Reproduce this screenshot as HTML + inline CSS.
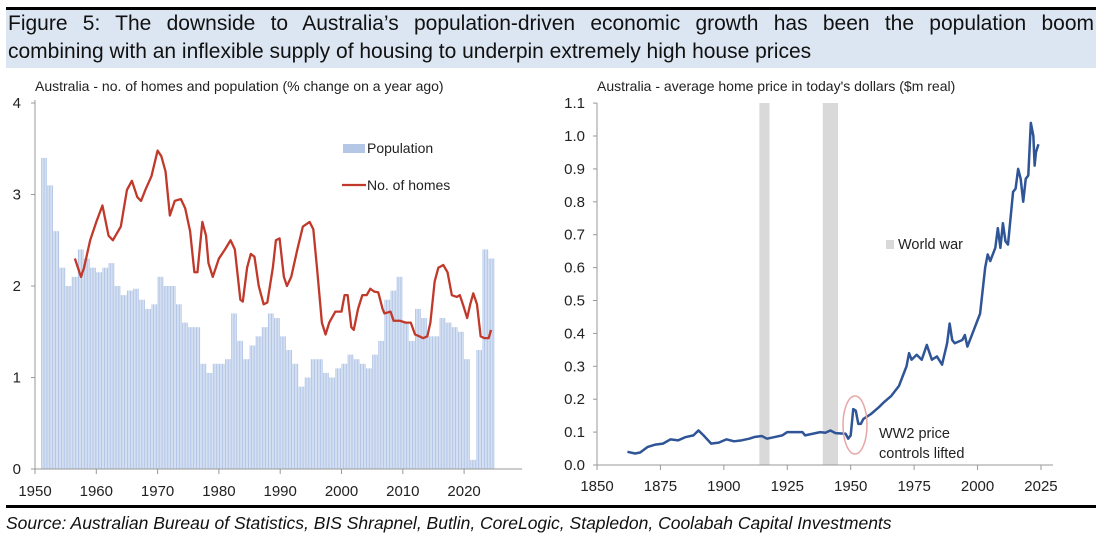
<!DOCTYPE html>
<html><head><meta charset="utf-8">
<style>
body{margin:0;width:1103px;height:540px;background:#fff;font-family:"Liberation Sans",sans-serif;overflow:hidden;position:relative}
#topline{position:absolute;left:6px;top:7px;width:1090px;height:3px;background:#000}
#banner{position:absolute;left:6px;top:10px;width:1090px;height:58px;background:#dce6f2}
.tl{position:absolute;left:8px;width:1086px;font-size:21px;line-height:28px;color:#111;white-space:nowrap}
#t1{top:10px;text-align:justify;text-align-last:justify;white-space:normal}
#t2{top:38px}
#botline{position:absolute;left:6px;top:505px;width:1090px;height:3px;background:#000}
#source{position:absolute;left:6px;top:513px;font-size:17.5px;font-style:italic;color:#111;white-space:nowrap}
svg{position:absolute;left:0;top:0}
</style></head><body>
<div id="topline"></div>
<div id="banner"></div>
<div id="t1" class="tl">Figure 5: The downside to Australia’s population-driven economic growth has been the population boom</div>
<div id="t2" class="tl">combining with an inflexible supply of housing to underpin extremely high house prices</div>
<svg id="chart" width="1103" height="540"></svg>
<div id="botline"></div>
<div id="source">Source: Australian Bureau of Statistics, BIS Shrapnel, Butlin, CoreLogic, Stapledon, Coolabah Capital Investments</div>
<script>
const popYears=[1951,1952,1953,1954,1955,1956,1957,1958,1959,1960,1961,1962,1963,1964,1965,1966,1967,1968,1969,1970,1971,1972,1973,1974,1975,1976,1977,1978,1979,1980,1981,1982,1983,1984,1985,1986,1987,1988,1989,1990,1991,1992,1993,1994,1995,1996,1997,1998,1999,2000,2001,2002,2003,2004,2005,2006,2007,2008,2009,2010,2011,2012,2013,2014,2015,2016,2017,2018,2019,2020,2021,2022,2023,2024];
const popValues=[3.4,3.1,2.6,2.2,2.0,2.1,2.4,2.3,2.2,2.15,2.2,2.25,2.0,1.9,1.95,1.97,1.85,1.75,1.8,2.1,2.0,2.0,1.8,1.6,1.55,1.55,1.15,1.05,1.15,1.15,1.2,1.7,1.4,1.2,1.35,1.45,1.55,1.7,1.65,1.45,1.3,1.15,0.9,1.0,1.2,1.2,1.05,1.0,1.1,1.15,1.25,1.2,1.15,1.1,1.25,1.4,1.85,1.95,2.1,1.6,1.4,1.75,1.65,1.45,1.45,1.65,1.6,1.55,1.5,1.2,0.1,1.3,2.4,2.3];
const homeYears=[1956.5,1957.5,1958,1959,1960,1961,1962,1962.7,1964,1965,1965.8,1966.7,1967.3,1968,1969,1970,1970.6,1971.3,1972,1972.8,1973.8,1974.5,1975.3,1976,1976.5,1977.3,1977.9,1978.3,1979,1980,1981,1981.9,1982.6,1983.5,1983.9,1984.6,1985.2,1985.8,1986.5,1987.3,1987.9,1988.8,1989.3,1989.9,1990.6,1991.1,1991.8,1992.8,1993.7,1994.8,1995.4,1996,1996.8,1997.4,1998,1999,2000,2000.5,2001,2001.6,2002,2002.7,2003.4,2004.1,2004.7,2005.3,2006,2006.7,2007,2008,2008.5,2009.5,2010.5,2011.3,2012,2012.7,2013.3,2014,2014.5,2015.2,2015.8,2016.6,2017.3,2018,2018.8,2019.3,2019.8,2020.5,2021,2021.5,2022.1,2022.7,2023.3,2024,2024.4];
const homeValues=[2.3,2.1,2.2,2.5,2.7,2.88,2.55,2.5,2.65,3.05,3.15,2.97,2.93,3.05,3.2,3.48,3.42,3.25,2.77,2.93,2.95,2.85,2.6,2.15,2.15,2.7,2.55,2.25,2.1,2.3,2.4,2.5,2.4,1.85,1.83,2.2,2.35,2.32,2.0,1.8,1.82,2.2,2.5,2.52,2.1,2.0,2.1,2.4,2.65,2.7,2.62,2.2,1.6,1.47,1.6,1.72,1.72,1.9,1.9,1.55,1.52,1.75,1.9,1.9,1.97,1.94,1.93,1.75,1.7,1.72,1.62,1.62,1.6,1.6,1.47,1.45,1.43,1.45,1.6,2.05,2.2,2.23,2.15,1.9,1.88,1.9,1.8,1.65,1.8,1.92,1.8,1.45,1.43,1.43,1.52];
const leftYTicks=[0,1,2,3,4];
const leftXTicks=[1950,1960,1970,1980,1990,2000,2010,2020];
const priceYears=[1862,1865,1867,1870,1873,1876,1879,1882,1885,1888,1890,1892,1895,1898,1901,1904,1907,1910,1912,1915,1917,1920,1923,1925,1928,1931,1932,1935,1938,1940,1942,1944,1948,1949,1950,1951,1952,1953,1954,1955,1958,1961,1963,1966,1969,1971,1972,1973,1974,1976,1978,1980,1982,1984,1986,1988,1989,1990,1991,1994,1995,1996,1998,2000,2001,2003,2004,2005,2007,2008,2009,2010,2011,2012,2013,2014,2015,2016,2017,2018,2019,2020,2021,2022,2022.5,2023,2024];
const priceValues=[0.04,0.035,0.038,0.055,0.062,0.065,0.078,0.075,0.085,0.09,0.105,0.09,0.065,0.068,0.078,0.072,0.075,0.08,0.085,0.088,0.08,0.085,0.09,0.1,0.1,0.1,0.09,0.095,0.1,0.098,0.105,0.097,0.095,0.08,0.09,0.17,0.165,0.125,0.125,0.14,0.155,0.175,0.19,0.21,0.24,0.28,0.3,0.34,0.32,0.335,0.32,0.365,0.32,0.33,0.305,0.37,0.43,0.38,0.37,0.38,0.395,0.36,0.4,0.44,0.46,0.6,0.64,0.62,0.66,0.72,0.66,0.735,0.68,0.67,0.75,0.83,0.84,0.9,0.87,0.8,0.87,0.88,1.04,1.0,0.91,0.95,0.975];
const warStarts=[1914,1939];
const warEnds=[1918,1945];
const rightYTicks=[0,0.1,0.2,0.3,0.4,0.5,0.6,0.7,0.8,0.9,1.0,1.1];
const rightXTicks=[1850,1875,1900,1925,1950,1975,2000,2025];

const NS="http://www.w3.org/2000/svg";
const svg=document.getElementById('chart');
function mk(tag,attrs,parent){const e=document.createElementNS(NS,tag);for(const k in attrs)e.setAttribute(k,attrs[k]);(parent||svg).appendChild(e);return e;}
const F='"Liberation Sans",sans-serif';

// left chart
const lx=y=>35+(y-1950)*6.13;
const ly=v=>469-v*91.5;
let t=mk('text',{x:35,y:91,'font-size':14,'font-family':F,fill:'#222'});t.textContent='Australia - no. of homes and population (% change on a year ago)';


const gb=mk('g',{});


popYears.forEach((yr,i)=>{
  const x0=lx(yr),h=469-ly(popValues[i]);
  for(let q=0;q<4;q++){
    const r=mk('rect',{x:x0+q*1.53,y:ly(popValues[i]),width:1.1,height:h,fill:'#b4c7e7'},gb);
    
    
  }
});
let p=mk('polyline',{points:homeYears.map((y,i)=>lx(y)+','+ly(homeValues[i])).join(' '),fill:'none',stroke:'#c0392b','stroke-width':2.3,'stroke-linejoin':'round'});


mk('line',{x1:35,y1:100,x2:35,y2:469,stroke:'#999'});
mk('line',{x1:35,y1:469,x2:522,y2:469,stroke:'#999'});
leftYTicks.forEach(v=>{mk('line',{x1:31,x2:35,y1:ly(v),y2:ly(v),stroke:'#999'});
 const e=mk('text',{x:21,y:ly(v)+5,'font-size':15,'font-family':F,'text-anchor':'end',fill:'#222'});e.textContent=v;
 
 });
leftXTicks.forEach(v=>{mk('line',{x1:lx(v),x2:lx(v),y1:469,y2:474,stroke:'#999'});
 const e=mk('text',{x:lx(v),y:496,'font-size':15,'font-family':F,'text-anchor':'middle',fill:'#222'});e.textContent=v;
 
 });
let lg=mk('rect',{x:343,y:144,width:22,height:9,fill:'#b4c7e7'});


t=mk('text',{x:367,y:153,'font-size':14,'font-family':F,fill:'#222'});t.textContent='Population';


lg=mk('line',{x1:342,x2:366,y1:185,y2:185,stroke:'#c0392b','stroke-width':2.3});


t=mk('text',{x:367,y:190,'font-size':14,'font-family':F,fill:'#222'});t.textContent='No. of homes';



// right chart
const rx=y=>597+(y-1850)*2.537;
const ry=v=>465-v*329;
t=mk('text',{x:597,y:91,'font-size':14,'font-family':F,fill:'#222'});t.textContent="Australia - average home price in today's dollars ($m real)";


warStarts.forEach((s,i)=>{const r=mk('rect',{x:rx(s),y:103,width:rx(warEnds[i])-rx(s),height:362,fill:'#d9d9d9'});
 
 });
mk('line',{x1:597,y1:103,x2:597,y2:465,stroke:'#999'});
mk('line',{x1:597,y1:465,x2:1053,y2:465,stroke:'#999'});
rightYTicks.forEach(v=>{mk('line',{x1:593,x2:597,y1:ry(v),y2:ry(v),stroke:'#999'});
 const e=mk('text',{x:585,y:ry(v)+5,'font-size':15,'font-family':F,'text-anchor':'end',fill:'#222'});e.textContent=v.toFixed(1);
 
 });
rightXTicks.forEach(v=>{mk('line',{x1:rx(v),x2:rx(v),y1:465,y2:470,stroke:'#999'});
 const e=mk('text',{x:rx(v),y:491,'font-size':15,'font-family':F,'text-anchor':'middle',fill:'#222'});e.textContent=v;
 
 });
p=mk('polyline',{points:priceYears.map((y,i)=>rx(y)+','+ry(priceValues[i])).join(' '),fill:'none',stroke:'#2f5597','stroke-width':2.5,'stroke-linejoin':'round'});


let el=mk('ellipse',{cx:855,cy:425,rx:12,ry:29,fill:'none',stroke:'#e6a6a6','stroke-width':1.5});


lg=mk('rect',{x:886,y:240,width:8,height:9,fill:'#d9d9d9'});


t=mk('text',{x:898,y:249,'font-size':14.5,'font-family':F,fill:'#222'});t.textContent='World war';


t=mk('text',{x:879,y:438,'font-size':14.5,'font-family':F,fill:'#222'});t.textContent='WW2 price';


t=mk('text',{x:879,y:458,'font-size':14.5,'font-family':F,fill:'#222'});t.textContent='controls lifted';


</script>
</body></html>
